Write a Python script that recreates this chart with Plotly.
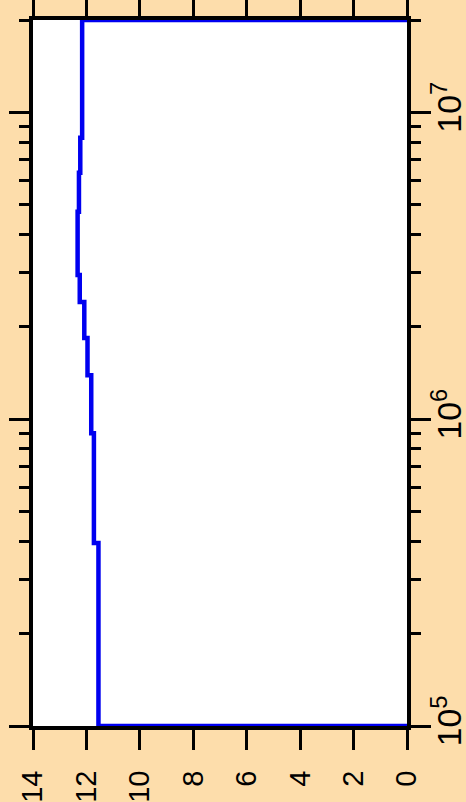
import math
import plotly.graph_objects as go

# Step edges along the log axis and step values
edges = [1e5, 3.95e5, 9.0e5, 1.39e6, 1.84e6, 2.41e6, 2.95e6, 4.74e6, 6.35e6, 8.26e6, 2.0e7]
values = [11.55, 11.72, 11.82, 11.96, 12.08, 12.25, 12.33, 12.28, 12.23, 12.16]
value_ticks = [0, 2, 4, 6, 8, 10, 12, 14]

xs = [0] + values + [0]
ys = [edges[0]] + edges[:-1] + [edges[-1]]

BG = "#FDDDAB"
yrange = [math.log10(edges[0]), math.log10(edges[-1])]

fig = go.Figure()
fig.add_trace(go.Scatter(x=xs, y=ys, mode="lines", line=dict(color="#0000F0", width=4.5, shape="vh"),
                         showlegend=False, hoverinfo="skip"))
# invisible trace carrying the labelled right axis
fig.add_trace(go.Scatter(x=[0, 0], y=[edges[0], edges[-1]], yaxis="y2", mode="markers",
                         marker=dict(opacity=0), showlegend=False, hoverinfo="skip"))

font = dict(family="Liberation Sans, Arial, sans-serif", size=29, color="black")
rfont = dict(family="Liberation Sans, Arial, sans-serif", size=27, color="black")

fig.update_layout(
    width=466, height=802,
    margin=dict(l=33, r=59, t=20, b=76, autoexpand=False),
    paper_bgcolor=BG,
    plot_bgcolor="white",
    font=font,
    xaxis=dict(range=[14, 0], tickvals=value_ticks, ticks="outside", ticklen=20, tickwidth=2.5,
               tickcolor="black", showline=True, linewidth=4, linecolor="black", showgrid=False,
               mirror="ticks", zeroline=False, tickangle=-90, tickfont=font, side="bottom",
               automargin=False, ticklabelstandoff=9),
    yaxis=dict(type="log", range=yrange, side="right", dtick=1,
               ticks="outside", ticklen=20, tickwidth=2.5, tickcolor="black",
               minor=dict(ticks="outside", ticklen=10, tickwidth=2.5, tickcolor="black", dtick="D1", showgrid=False),
               showline=True, linewidth=4, linecolor="black", mirror="ticks", showgrid=False,
               zeroline=False, showticklabels=False, automargin=False),
    yaxis2=dict(type="log", range=yrange, side="right", overlaying="y", dtick=1,
                ticks="", showline=False, showgrid=False, zeroline=False,
                exponentformat="power", tickangle=-90, tickfont=rfont, automargin=False,
                ticklabelstandoff=19),
)

fig.write_html("out.html", config={"displayModeBar": False},
               post_script="document.body.style.margin='0';document.body.style.background='%s';" % BG)
